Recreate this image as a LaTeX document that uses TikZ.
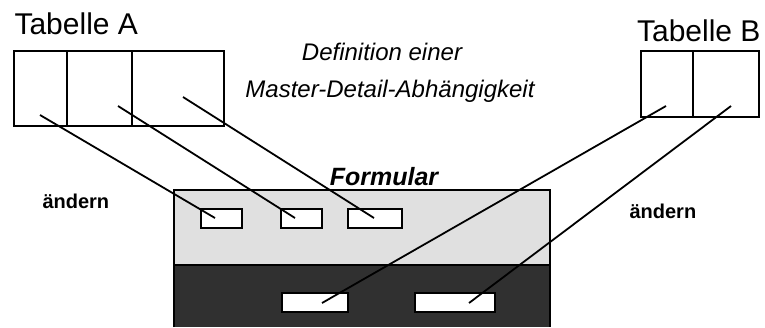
\documentclass[tikz,border=0pt]{standalone}
\usepackage{fontspec}
\setmainfont{Liberation Sans}
\definecolor{formlight}{HTML}{E0E0E0}
\definecolor{formdark}{HTML}{303030}
\tikzset{
  cell/.style={draw, line width=2pt, inner sep=0pt, anchor=north west},
  field/.style={draw, fill=white, line width=1.5pt, inner sep=0pt, minimum height=19pt},
  link/.style={line width=1.8pt},
}
\begin{document}
\begin{tikzpicture}[x=1pt, y=-1pt, every node/.style={font=\fontsize{18}{20}\selectfont}]
\useasboundingbox (0,0) rectangle (765,327);
\node[cell, minimum width=53pt, minimum height=75pt] (A1) at (13,50) {};
\node[cell, minimum width=65pt, minimum height=75pt] (A2) at (66,50) {};
\node[cell, minimum width=92pt, minimum height=75pt] (A3) at (131,50) {};
\node[cell, minimum width=52pt, minimum height=66pt] (B1) at (640,50) {};
\node[cell, minimum width=66pt, minimum height=66pt] (B2) at (692,50) {};
\node[anchor=base west, font=\fontsize{30}{32}\selectfont] (TA) at (11,34) {Tabelle A};
\node[anchor=base east, font=\fontsize{30}{32}\selectfont] (TB) at (764,41) {Tabelle B};
\node[anchor=base, font=\fontsize{24}{26}\selectfont\itshape] (def1) at (382,60) {Definition einer};
\node[anchor=base, font=\fontsize{24}{26}\selectfont\itshape] (def2) at (390,97) {Master-Detail-Abhängigkeit};
\fill[formlight] (174,190) rectangle (550,265);
\fill[formdark] (174,265) rectangle (550,327);
\draw[line width=1.5pt] (174,327) -- (174,190) -- (550,190) -- (550,327);
\draw[line width=1.5pt] (174,265) -- (550,265);
\node[anchor=base, font=\fontsize{25}{27}\selectfont\bfseries\itshape] (form) at (384,185) {Formular};
\node[anchor=base west, font=\fontsize{20}{22}\selectfont\bfseries] (ae1) at (39,208) {ändern};
\node[anchor=base west, font=\fontsize{20}{22}\selectfont\bfseries] (ae2) at (626,218) {ändern};
\node[field, minimum width=41pt] (f1) at (221.5,218.5) {};
\node[field, minimum width=41pt] (f2) at (301.5,218.5) {};
\node[field, minimum width=54pt] (f3) at (375,218.5) {};
\node[field, minimum width=66pt] (f4) at (315,302.5) {};
\node[field, minimum width=80pt] (f5) at (455,302.5) {};
\coordinate (a1) at (40,115);
\coordinate (a2) at (118,106);
\coordinate (a3) at (183,97);
\coordinate (b1) at (666,106);
\coordinate (b2) at (731,106);
\coordinate (e1) at (215,218);
\coordinate (e2) at (295,218);
\coordinate (e3) at (374,218);
\coordinate (e4) at (322,303);
\coordinate (e5) at (469,303);
\draw[link] (a1) -- (e1);
\draw[link] (a2) -- (e2);
\draw[link] (a3) -- (e3);
\draw[link] (b1) -- (e4);
\draw[link] (b2) -- (e5);
\end{tikzpicture}
\end{document}
